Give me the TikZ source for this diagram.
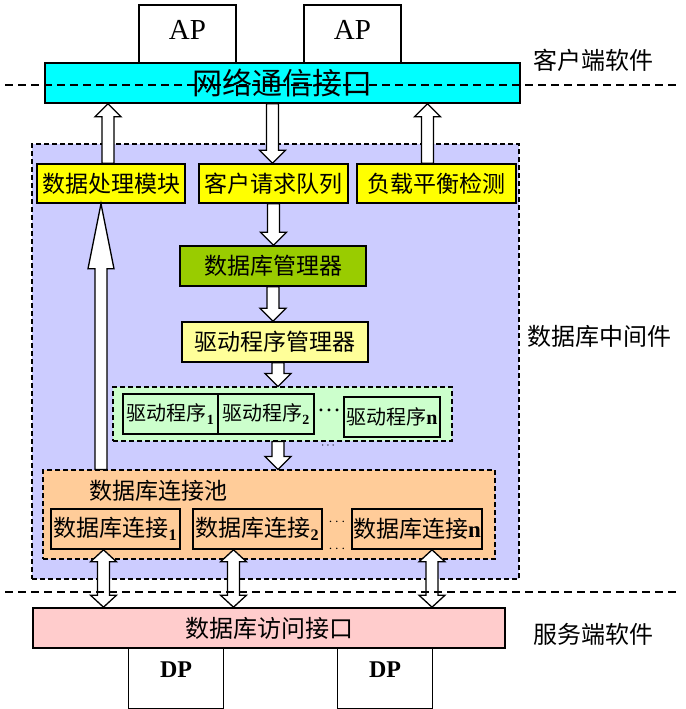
\documentclass[tikz,border=0pt]{standalone}
\usepackage{fontspec}
\setmainfont{Liberation Serif}
\newfontfamily\cjk{Noto Sans CJK SC}
\usetikzlibrary{calc}
\definecolor{netcyan}{HTML}{00FFFF}
\definecolor{boxyellow}{HTML}{FFFF00}
\definecolor{mgrgreen}{HTML}{99CC00}
\definecolor{drvyellow}{HTML}{FFFF99}
\definecolor{midblue}{HTML}{CCCCFF}
\definecolor{drvgreen}{HTML}{CCFFCC}
\definecolor{poolorange}{HTML}{FFCC99}
\definecolor{accpink}{HTML}{FFCCCC}
\tikzset{
  box/.style={draw,line width=1.6pt,inner sep=0pt,font=\cjk\fontsize{23}{26}\selectfont},
  smallbox/.style={box,minimum height=40,font=\cjk\fontsize{20}{22}\selectfont},
  grp/.style={draw,dash pattern=on 5pt off 3pt,line width=1.1pt},
  hollow/.style={draw,fill=white,line width=1.3pt,line join=miter},
  sep/.style={dash pattern=on 8pt off 5pt,line width=1.1pt},
  lbl/.style={font=\cjk\fontsize{24}{28}\selectfont},
}
\newcommand{\idx}[1]{\textsubscript{\rmfamily\bfseries #1}}
% 空心箭头, 箭头在终点
\newcommand{\blockarrow}[3][13]{%
  \draw[hollow] let \p1=#2, \p2=#3, \n1={sign(\y2-\y1)}, \n2={\y2-\n1*#1} in
    ({\x1-6},\y1) -- ({\x1-6},\n2) -- ({\x1-13},\n2) -- (\x1,\y2)
    -- ({\x1+13},\n2) -- ({\x1+6},\n2) -- ({\x1+6},\y1) -- cycle;}
% 空心双向箭头
\newcommand{\dblarrow}[3][12]{%
  \draw[hollow] let \p1=#2, \p2=#3, \n1={sign(\y2-\y1)}, \n2={\y2-\n1*#1}, \n3={\y1+\n1*#1} in
    (\x1,\y1) -- ({\x1+13},\n3) -- ({\x1+6},\n3) -- ({\x1+6},\n2)
    -- ({\x1+13},\n2) -- (\x1,\y2) -- ({\x1-13},\n2) -- ({\x1-6},\n2)
    -- ({\x1-6},\n3) -- ({\x1-13},\n3) -- cycle;}
\begin{document}
\begin{tikzpicture}[x=1pt,y=-1pt]
  \useasboundingbox (0,0) rectangle (685,709);

  % 客户端
  \node[box,minimum width=97,minimum height=58,text depth=8pt,font=\fontsize{29}{31}\selectfont] (ap1) at (187.5,34) {AP};
  \node[box,minimum width=97,minimum height=58,text depth=8pt,font=\fontsize{29}{31}\selectfont] (ap2) at (352.5,34) {AP};
  \node[box,fill=netcyan,minimum width=475,minimum height=40,font=\cjk\fontsize{30}{32}\selectfont] (net) at (282.5,83) {网络通信接口};

  % 中间件
  \node[grp,fill=midblue,minimum width=487,minimum height=435] (mid) at (275.5,361.5) {};
  \node[box,fill=boxyellow,minimum width=148,minimum height=39] (dpm) at (111,183.5) {数据处理模块};
  \node[box,fill=boxyellow,minimum width=149,minimum height=39] (crq) at (273.5,183.5) {客户请求队列};
  \node[box,fill=boxyellow,minimum width=159,minimum height=39] (lb) at (436.5,183.5) {负载平衡检测};
  \node[box,fill=mgrgreen,minimum width=186,minimum height=40] (dbm) at (273,266) {数据库管理器};
  \node[box,fill=drvyellow,minimum width=186,minimum height=40] (drm) at (275,342) {驱动程序管理器};

  \node[grp,fill=drvgreen,minimum width=339,minimum height=54] (drvgrp) at (282.5,414) {};
  \node[smallbox,fill=drvgreen,minimum width=95] (drv1) at (170.5,414) {驱动程序\idx{1}};
  \node[smallbox,fill=drvgreen,minimum width=96] (drv2) at (266,414) {驱动程序\idx{2}};
  \node[smallbox,fill=drvgreen,minimum width=96] (drvn) at (392,417) {驱动程序{\rmfamily\bfseries n}};
  \node[font=\fontsize{24}{26}\selectfont] (drvdots) at (329,410) {\ldots};
  \node[font=\fontsize{13}{15}\selectfont] (drvdots2) at (328,446) {$\cdots$};

  \node[grp,fill=poolorange,minimum width=452,minimum height=89] (pool) at (269,514.5) {};
  \node[font=\cjk\fontsize{23}{26}\selectfont] (pooltitle) at (158,491) {数据库连接池};
  \node[box,minimum width=129,minimum height=40] (conn1) at (115.5,529) {数据库连接\idx{1}};
  \node[box,minimum width=129,minimum height=40] (conn2) at (257.5,529) {数据库连接\idx{2}};
  \node[box,minimum width=130,minimum height=40] (connn) at (417,529) {数据库连接{\rmfamily\bfseries n}};
  \node[font=\fontsize{15}{17}\selectfont] (conndots) at (337,522) {$\cdots$};
  \node[font=\fontsize{15}{17}\selectfont] (conndots2) at (337,549) {$\cdots$};

  % 服务端
  \node[box,minimum width=95,minimum height=61,text depth=17pt,font=\bfseries\fontsize{24}{26}\selectfont] (dp1) at (176,678.5) {DP};
  \node[box,minimum width=95,minimum height=61,text depth=17pt,font=\bfseries\fontsize{24}{26}\selectfont] (dp2) at (385,678.5) {DP};
  \node[box,fill=accpink,minimum width=472,minimum height=40,font=\cjk\fontsize{24}{26}\selectfont] (acc) at (269,628) {数据库访问接口};

  % 箭头
  \coordinate (upL) at ([xshift=-3pt]dpm.north);
  \coordinate (upR) at ([xshift=-9pt]lb.north);
  \coordinate (upP) at ([xshift=-10pt]dpm.south);
  \coordinate (dnQ) at ([xshift=-1pt]crq.north);
  \coordinate (dnG) at ([xshift=3pt]drm.south);
  \coordinate (bi1) at ([xshift=-12pt]conn1.south);
  \coordinate (bi2) at ([xshift=-24pt]conn2.south);
  \coordinate (bi3) at ([xshift=15pt]connn.south);
  \blockarrow{(upL)}{(upL |- net.south)}
  \blockarrow{(upR)}{(upR |- net.south)}
  \blockarrow{(dnQ |- net.south)}{(dnQ)}
  \blockarrow{(crq.south)}{(crq.south |- dbm.north)}
  \blockarrow{(dbm.south)}{(dbm.south |- drm.north)}
  \blockarrow{(dnG)}{(dnG |- drvgrp.north)}
  \blockarrow{(dnG |- drvgrp.south)}{(dnG |- pool.north)}
  \blockarrow[65]{(upP |- pool.north)}{(upP)}
  \dblarrow{(bi1)}{(bi1 |- acc.north)}
  \dblarrow{(bi2)}{(bi2 |- acc.north)}
  \dblarrow{(bi3)}{(bi3 |- acc.north)}

  % 分界虚线
  \coordinate (s1l) at (5,85);
  \coordinate (s1r) at (680,85);
  \coordinate (s2l) at (5,592);
  \coordinate (s2r) at (680,592);
  \draw[sep] (s1l) -- (s1r);
  \draw[sep] (s2l) -- (s2r);

  % 层次标注
  \node[lbl] (clientlbl) at (593,60) {客户端软件};
  \node[lbl] (midlbl) at (599,336) {数据库中间件};
  \node[lbl] (serverlbl) at (593,634) {服务端软件};
\end{tikzpicture}
\end{document}
